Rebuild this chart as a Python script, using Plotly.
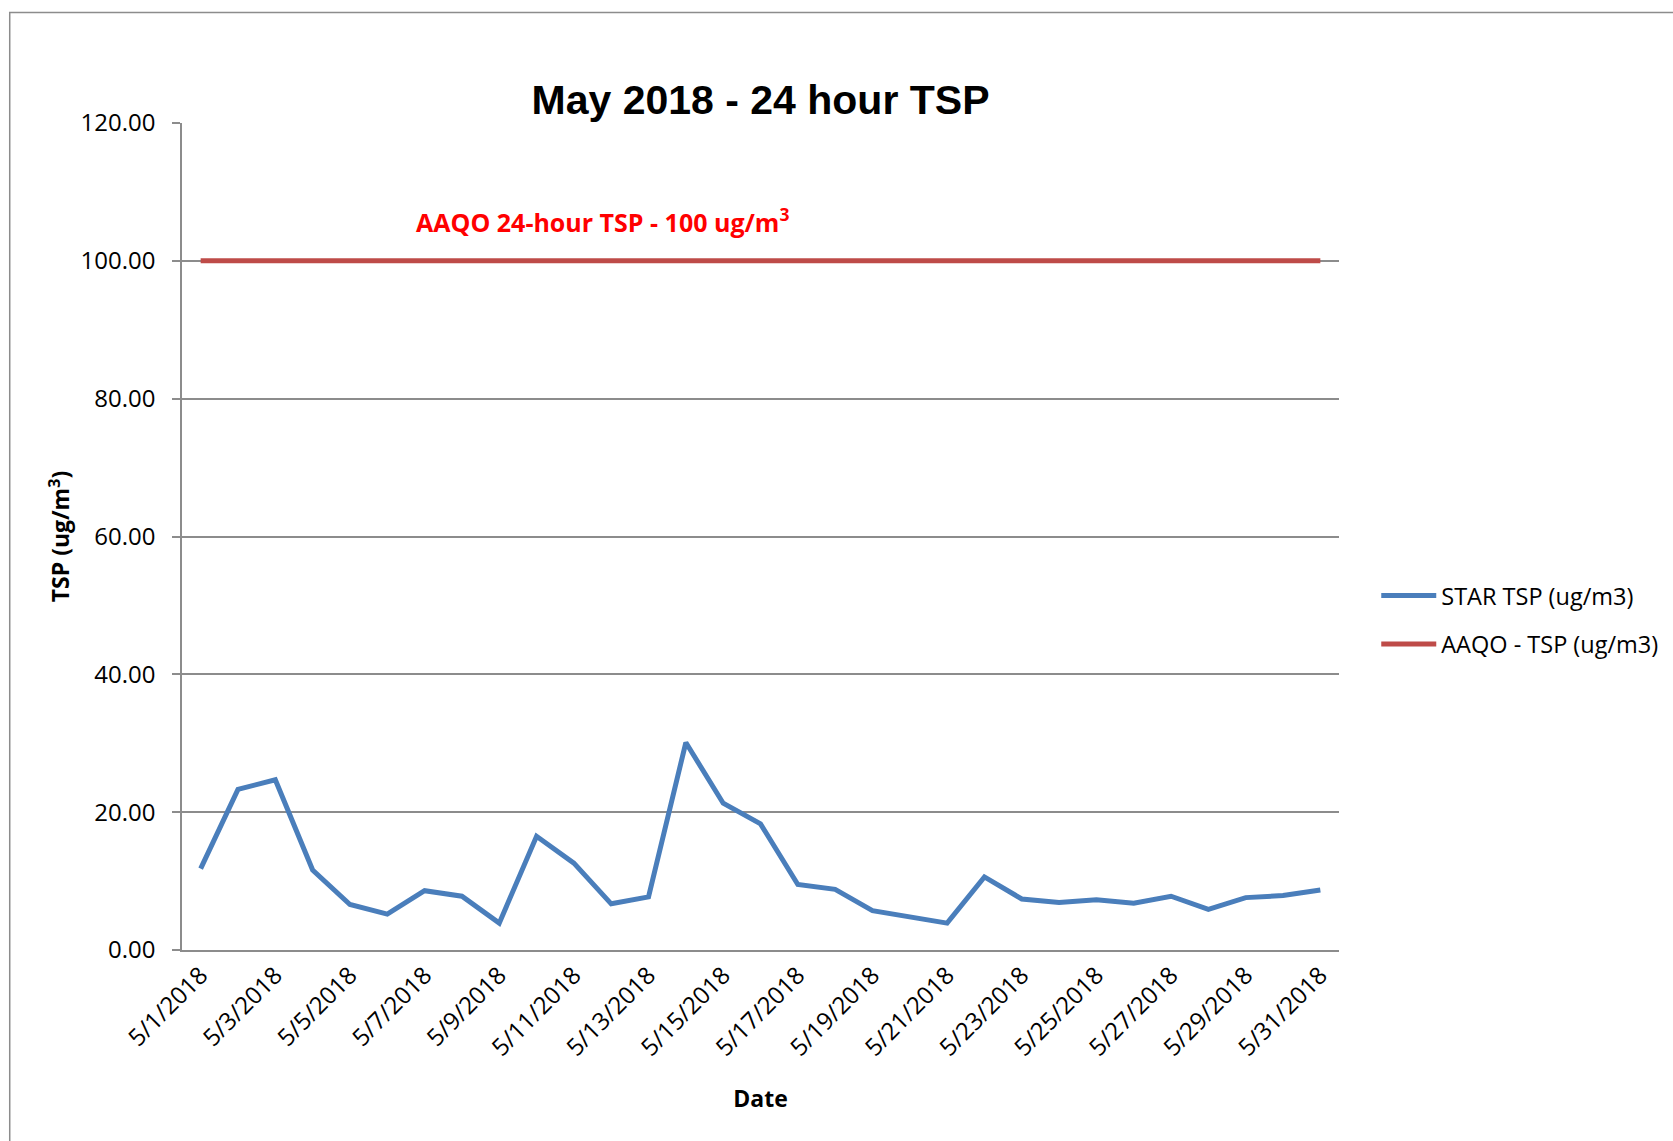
import plotly.graph_objects as go

# ---- data ----
dates = ["5/1/2018", "5/2/2018", "5/3/2018", "5/4/2018", "5/5/2018", "5/6/2018",
         "5/7/2018", "5/8/2018", "5/9/2018", "5/10/2018", "5/11/2018", "5/12/2018",
         "5/13/2018", "5/14/2018", "5/15/2018", "5/16/2018", "5/17/2018", "5/18/2018",
         "5/19/2018", "5/20/2018", "5/21/2018", "5/22/2018", "5/23/2018", "5/24/2018",
         "5/25/2018", "5/26/2018", "5/27/2018", "5/28/2018", "5/29/2018", "5/30/2018",
         "5/31/2018"]
star_tsp = [11.8, 23.3, 24.7, 11.6, 6.6, 5.2, 8.6, 7.8, 3.9, 16.5, 12.6, 6.7,
            7.7, 30.1, 21.3, 18.3, 9.5, 8.8, 5.7, 4.8, 3.9, 10.6, 7.4, 6.9,
            7.3, 6.8, 7.8, 5.9, 7.6, 7.9, 8.7]
aaqo_tsp = [100.0, 100.0, 100.0, 100.0, 100.0, 100.0, 100.0, 100.0, 100.0, 100.0,
            100.0, 100.0, 100.0, 100.0, 100.0, 100.0, 100.0, 100.0, 100.0, 100.0,
            100.0, 100.0, 100.0, 100.0, 100.0, 100.0, 100.0, 100.0, 100.0, 100.0,
            100.0]
y_ticks = [0, 20, 40, 60, 80, 100, 120]

day_idx = list(range(1, len(dates) + 1))
label_vals = day_idx[::2]
label_text = dates[::2]
tick_bounds = [d - 0.5 for d in label_vals]

GRAY = "#8C8C8C"
FONT = "Open Sans"

fig = go.Figure()
fig.add_trace(go.Scatter(x=day_idx, y=star_tsp, mode="lines", name="STAR TSP (ug/m3)",
                         line=dict(color="#4A7EBB", width=5), legendgroup="a"))
fig.add_trace(go.Scatter(x=day_idx, y=aaqo_tsp, mode="lines", name="AAQO - TSP (ug/m3)",
                         line=dict(color="#BE4B48", width=5), legendgroup="b"))

fig.update_layout(
    width=1673, height=1141,
    margin=dict(l=182, r=334, t=123, b=191, autoexpand=False),
    paper_bgcolor="white", plot_bgcolor="white",
    font=dict(family=FONT, size=24, color="black"),
    title=dict(text="<b>May 2018 - 24 hour TSP</b>", x=0.5, xref="paper",
               y=1 - 100 / 1141, yref="container", yanchor="middle",
               font=dict(family="Liberation Sans", size=41, color="black")),
    xaxis=dict(range=[0.5, 31.5], tickmode="array", tickvals=label_vals, ticktext=label_text,
               tickangle=-45, ticks="", showgrid=False, zeroline=False,
               showline=True, linecolor=GRAY, linewidth=1.5,
               tickfont=dict(size=24), automargin=False,
               title=dict(text="<b>Date</b>", standoff=30, font=dict(size=23))),
    xaxis2=dict(range=[0.5, 31.5], overlaying="x", anchor="y", side="bottom",
                tickmode="array", tickvals=tick_bounds, ticks="outside", ticklen=8,
                tickwidth=1.5, tickcolor=GRAY, showticklabels=False,
                showgrid=False, zeroline=False, showline=False),
    yaxis=dict(range=[0, 120], tickmode="array", tickvals=y_ticks, tickformat=".2f",
               showgrid=True, gridcolor=GRAY, gridwidth=1.5, zeroline=False,
               showline=True, linecolor=GRAY, linewidth=1.5,
               ticks="outside", ticklen=8, tickwidth=1.5, tickcolor=GRAY,
               ticklabelstandoff=12, tickfont=dict(size=24), automargin=False,
               title=dict(text="<b>TSP (ug/m<sup>3</sup>)</b>", standoff=4, font=dict(size=23))),
    legend=dict(x=1.0322, xanchor="left", y=0.455, yanchor="top",
                traceorder="grouped", tracegroupgap=15, itemwidth=55,
                font=dict(size=23.5), bgcolor="rgba(0,0,0,0)"),
    shapes=[dict(type="rect", xref="paper", yref="paper",
                 x0=-0.1489, x1=1.35, y0=-0.30, y1=1.1336,
                 line=dict(color=GRAY, width=1.5), fillcolor="rgba(0,0,0,0)", layer="below")],
    annotations=[dict(text="<b>AAQO 24-hour TSP - 100 ug/m<sup>3</sup></b>", x=11.76, y=105.8,
                      xref="x", yref="y", showarrow=False,
                      font=dict(size=25, color="#FF0000"))],
)

fig.write_html("out.html", config={"displayModeBar": False},
               post_script="document.body.style.margin='0';")
